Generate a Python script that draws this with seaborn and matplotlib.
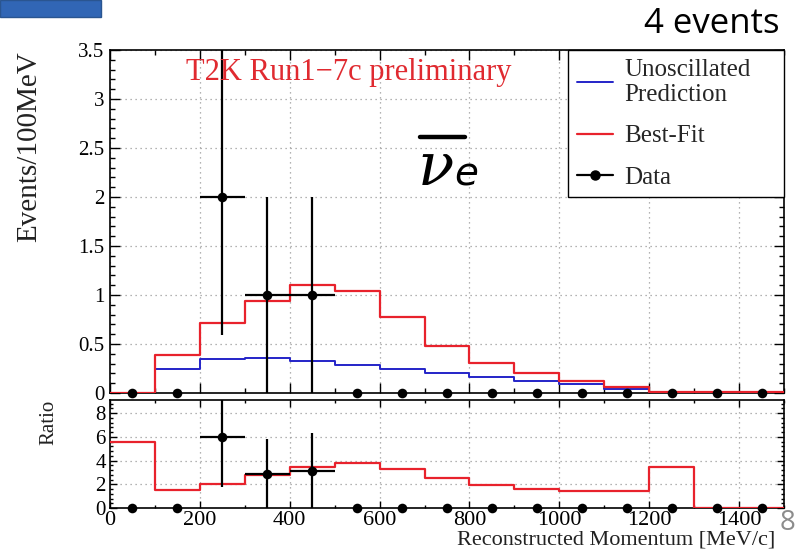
import numpy as np
import pandas as pd
import matplotlib
matplotlib.use("Agg")
import matplotlib.pyplot as plt
import seaborn as sns
from matplotlib.ticker import MultipleLocator, FixedLocator, FixedFormatter
from matplotlib.lines import Line2D
from matplotlib.patches import Rectangle

# ---------------- data ----------------
bin_edges = [0, 100, 200, 300, 400, 500, 600, 700, 800, 900, 1000, 1100, 1200, 1300, 1400, 1500]
bin_centers = [50, 150, 250, 350, 450, 550, 650, 750, 850, 950, 1050, 1150, 1250, 1350, 1450]
unoscillated = [0.0, 0.25, 0.343, 0.353, 0.326, 0.283, 0.245, 0.20, 0.165, 0.125, 0.088, 0.04, 0.012, 0.008, 0.006]
best_fit = [0.0, 0.384, 0.71, 0.94, 1.10, 1.04, 0.78, 0.48, 0.31, 0.20, 0.125, 0.064, 0.015, 0.008, 0.006]
data_counts = [0, 0, 2, 1, 1, 0, 0, 0, 0, 0, 0, 0, 0, 0, 0]
data_err_low = [0, 0, 1.41, 1, 1, 0, 0, 0, 0, 0, 0, 0, 0, 0, 0]
data_err_high = [0, 0, 1.5, 1, 1, 0, 0, 0, 0, 0, 0, 0, 0, 0, 0]
data_xerr = [0, 0, 50, 50, 50, 0, 0, 0, 0, 0, 0, 0, 0, 0, 0]

ratio_best_fit = [5.58, 1.52, 2.0, 2.78, 3.43, 3.82, 3.26, 2.5, 1.94, 1.6, 1.46, 1.46, 3.48, 0.0, 0.0]
ratio_data = [0, 0, 6.0, 2.86, 3.12, 0, 0, 0, 0, 0, 0, 0, 0, 0, 0]
ratio_err_low = [0, 0, 4.26, 2.86, 3.12, 0, 0, 0, 0, 0, 0, 0, 0, 0, 0]
ratio_err_high = [0, 0, 3.1, 2.92, 3.22, 0, 0, 0, 0, 0, 0, 0, 0, 0, 0]

top_yticks = [0, 0.5, 1, 1.5, 2, 2.5, 3, 3.5]
top_ytick_labels = ["0", "0.5", "1", "1.5", "2", "2.5", "3", "3.5"]
ratio_yticks = [0, 2, 4, 6, 8]
ratio_ytick_labels = ["0", "2", "4", "6", "8"]
xticks = [0, 200, 400, 600, 800, 1000, 1200, 1400]
xtick_labels = ["0", "200", "400", "600", "800", "1000", "1200", "1400"]
legend_labels = ["Unoscillated\nPrediction", "Best-Fit", "Data"]

# ---------------- style ----------------
sns.set_theme(style="white")
plt.rcParams["font.family"] = ["Liberation Serif", "DejaVu Serif"]
plt.rcParams["mathtext.fontset"] = "dejavusans"

RED = "#e8222c"
BLUE = "#2424c8"
GRID = "#9a9a9a"

W, H = 807, 557
fig = plt.figure(figsize=(W / 100, H / 100), dpi=100)
fig.patch.set_facecolor("white")

def fx(px):
    return px / W

def fy(py):
    return 1 - py / H

ax_top = fig.add_axes([fx(110), fy(393), fx(784) - fx(110), fy(50) - fy(393)])
ax_rat = fig.add_axes([fx(110), fy(508), fx(784) - fx(110), fy(400) - fy(508)])

df = pd.DataFrame({
    "center": bin_centers,
    "unosc": unoscillated,
    "best": best_fit,
    "rbest": ratio_best_fit,
})

# ---------------- top panel ----------------
sns.histplot(data=df, x="center", weights="unosc", bins=bin_edges, element="step",
             fill=False, color=BLUE, linewidth=1.4, ax=ax_top, zorder=3)
sns.histplot(data=df, x="center", weights="best", bins=bin_edges, element="step",
             fill=False, color=RED, linewidth=1.6, ax=ax_top, zorder=4)
ax_top.errorbar(bin_centers, data_counts, yerr=[data_err_low, data_err_high], xerr=data_xerr,
                fmt="none", ecolor="black", elinewidth=1.6, capsize=0, zorder=5)
sns.scatterplot(x=bin_centers, y=data_counts, color="black", s=48, linewidth=0,
                ax=ax_top, clip_on=False, zorder=6)

# ---------------- ratio panel ----------------
sns.histplot(data=df, x="center", weights="rbest", bins=bin_edges, element="step",
             fill=False, color=RED, linewidth=1.6, ax=ax_rat, zorder=4)
ax_rat.errorbar(bin_centers, ratio_data, yerr=[ratio_err_low, ratio_err_high], xerr=data_xerr,
                fmt="none", ecolor="black", elinewidth=1.6, capsize=0, zorder=5)
sns.scatterplot(x=bin_centers, y=ratio_data, color="black", s=48, linewidth=0,
                ax=ax_rat, clip_on=False, zorder=6)

for ax in (ax_top, ax_rat):
    ax.set_xlim(0, 1500)
    ax.set_xlabel("")
    ax.set_ylabel("")
    ax.set_facecolor("white")
    ax.set_axisbelow(True)
    ax.grid(True, which="major", linestyle=(0, (1, 3)), color=GRID, linewidth=0.9)
    for s in ax.spines.values():
        s.set_visible(True)
        s.set_color("black")
        s.set_linewidth(1.2)
    ax.xaxis.set_major_locator(FixedLocator(xticks))
    ax.xaxis.set_minor_locator(MultipleLocator(100))
    ax.tick_params(which="both", direction="in", top=True, right=True, bottom=True, left=True,
                   colors="black", labelsize=15, width=1.0)

ax_top.set_ylim(0, 3.5)
ax_top.yaxis.set_major_locator(FixedLocator(top_yticks))
ax_top.yaxis.set_major_formatter(FixedFormatter(top_ytick_labels))
ax_top.yaxis.set_minor_locator(MultipleLocator(0.1))
ax_top.tick_params(which="major", length=7)
ax_top.tick_params(which="minor", length=3.6)
ax_top.tick_params(axis="x", labelbottom=False)
ax_top.tick_params(axis="y", pad=4)

ax_rat.set_ylim(0, 9.1)
ax_rat.yaxis.set_major_locator(FixedLocator(ratio_yticks))
ax_rat.yaxis.set_major_formatter(FixedFormatter(ratio_ytick_labels))
ax_rat.yaxis.set_minor_locator(MultipleLocator(0.4))
ax_rat.xaxis.set_major_formatter(FixedFormatter(xtick_labels))
ax_rat.tick_params(which="major", length=5)
ax_rat.tick_params(which="minor", length=2.5)
ax_rat.tick_params(axis="x", pad=2, labelsize=16)
ax_rat.tick_params(axis="y", pad=3)

# ---------------- legend ----------------
handles = [
    Line2D([], [], color=BLUE, lw=1.4),
    Line2D([], [], color=RED, lw=1.6),
    Line2D([], [], color="black", lw=1.6, marker="o", markersize=6.5),
]
lx0 = (568 - 110) / 674
ly0 = (393 - 208) / 343
leg = ax_top.legend(handles, legend_labels, loc="upper left",
                    bbox_to_anchor=(lx0, ly0, 1 - lx0, 1 - ly0), mode="expand",
                    frameon=True, fancybox=False, framealpha=1, edgecolor="black",
                    fontsize=18, handlelength=1.45, handletextpad=0.45,
                    labelspacing=0.75, borderpad=0.35, borderaxespad=0)
leg.get_frame().set_linewidth(1.0)
leg.set_zorder(10)

# ---------------- texts ----------------
fig.text(fx(349), fy(80), "T2K Run1\u22127c preliminary", color="#e02a30",
         fontsize=22, ha="center", va="baseline")
fig.text(fx(29), fy(147), "Events/100MeV", rotation=90, ha="center", va="center",
         fontsize=21, color="#222222")
fig.text(fx(49), fy(422), "Ratio", rotation=90, ha="center", va="center",
         fontsize=15, color="#222222")
fig.text(fx(775), fy(545), "Reconstructed Momentum [MeV/c]", ha="right", va="baseline",
         fontsize=16, color="#222222")

# nu-bar-e symbol
fig.text(fx(418), fy(185), "\u03bd", fontsize=43, ha="left", va="baseline",
         family="DejaVu Serif", style="italic", color="black")
fig.text(fx(454), fy(185), "e", fontsize=28, ha="left", va="baseline",
         family="DejaVu Sans", style="italic", color="black")
fig.add_artist(Line2D([fx(420), fx(465)], [fy(137), fy(137)], color="black", lw=3.2,
                      transform=fig.transFigure))

# slide decorations
fig.add_artist(Rectangle((0, fy(17)), fx(101), 17 / H, transform=fig.transFigure,
                         facecolor="#3166b5", edgecolor="#2a5590", lw=1))
fig.text(fx(780), fy(33), "4 events", ha="right", va="baseline", fontsize=25,
         family="Open Sans", color="black")
fig.text(fx(780), fy(530), "8", ha="left", va="baseline", fontsize=20,
         family="Open Sans", color="#8c8c8c")

fig.savefig("out.png", dpi=100, facecolor="white")
